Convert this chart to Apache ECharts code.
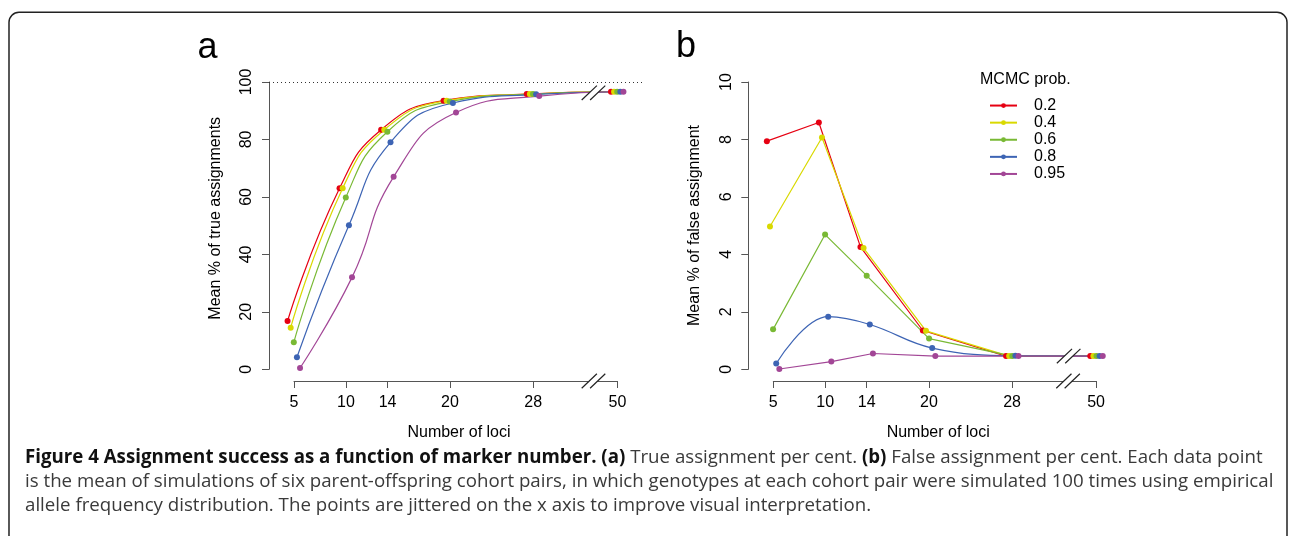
<!DOCTYPE html>
<html><head><meta charset="utf-8">
<script src="https://cdn.jsdelivr.net/npm/echarts@6/dist/echarts.min.js"></script>
<style>html,body{margin:0;padding:0;background:#fff;}#c{width:1290px;height:536px;}</style>
</head><body><div id="c"></div>
<script>
// ---------- data ----------
const loci = [5, 10, 14, 20, 28, 50];
const lociTickLabels = ['5', '10', '14', '20', '28', '50'];
const brokenPos50 = 36.1;          // axis position where "50" is drawn after the break
const breakAtA = 33.8;             // axis break location (panel a)
const breakAtB = 33.4;             // axis break location (panel b)
const probs = ['0.2', '0.4', '0.6', '0.8', '0.95'];
const jitter = [-0.62, -0.32, -0.02, 0.28, 0.58];
const colors = ['#e60012', '#d9d900', '#79b934', '#3d64b4', '#a24696'];

// (a) Mean % of true assignments
const trueP02  = [16.8, 63.0, 83.4, 93.5, 95.8, 96.6];
const trueP04  = [14.5, 63.0, 83.4, 93.5, 95.8, 96.6];
const trueP06  = [9.4, 59.8, 82.7, 93.2, 95.8, 96.6];
const trueP08  = [4.2, 50.1, 79.0, 92.7, 95.7, 96.6];
const trueP095 = [0.45, 32.0, 67.0, 89.4, 95.1, 96.6];
const trueRefLine = 100;
const trueBreakLevel = 96.25;

// (b) Mean % of false assignment
const falseP02  = [7.94, 8.59, 4.26, 1.35, 0.46, 0.46];
const falseP04  = [4.97, 8.07, 4.22, 1.34, 0.46, 0.46];
const falseP06  = [1.39, 4.69, 3.26, 1.07, 0.46, 0.46];
const falseP08  = [0.20, 1.83, 1.56, 0.74, 0.47, 0.46];
const falseP095 = [0.01, 0.27, 0.55, 0.46, 0.46, 0.46];
const falseBreakLevel = 0.46;

const trueSeries = [trueP02, trueP04, trueP06, trueP08, trueP095];
const falseSeries = [falseP02, falseP04, falseP06, falseP08, falseP095];
const falseSmooth = [0, 0, 0, 0.4, 0];

// ---------- helpers ----------
const FONT = "'Liberation Sans', Arial, Helvetica, sans-serif";
const AXC = '#555';
const posOf = l => (l === 50 ? brokenPos50 : l);
const tickPos = loci.map(posOf);
const tickLabel = v => {
  const i = tickPos.findIndex(p => Math.abs(p - v) < 1e-6);
  return i >= 0 ? lociTickLabels[i] : '';
};

function breakRender(params, api) {
  const p = api.coord([api.value(0), api.value(1)]);
  const cx = p[0], cy = p[1];
  const h = 7.2, w = 7.6, g = 4.2;
  return {
    type: 'group',
    children: [
      { type: 'polygon', shape: { points: [[cx - g - w, cy + h], [cx - g + w, cy - h], [cx + g + w, cy - h], [cx + g - w, cy + h]] },
        style: { fill: '#fff' } },
      { type: 'line', shape: { x1: cx - g - w, y1: cy + h, x2: cx - g + w, y2: cy - h }, style: { stroke: '#222', lineWidth: 1.2 } },
      { type: 'line', shape: { x1: cx + g - w, y1: cy + h, x2: cx + g + w, y2: cy - h }, style: { stroke: '#222', lineWidth: 1.2 } }
    ]
  };
}

function dataGrid(left) { return { left: left, top: 82, width: 374, height: 287.3, containLabel: false }; }
function axisGrid(left, width) { return { left: left, top: 82, width: width, height: 299, containLabel: false }; }

function hiddenX(grid, min, max) { return { gridIndex: grid, type: 'value', min: min, max: max, show: false, splitLine: { show: false } }; }
function hiddenY(grid) { return { gridIndex: grid, type: 'value', min: 0, max: 1, show: false, splitLine: { show: false } }; }
function visibleX(grid) {
  return {
    gridIndex: grid, type: 'value', min: 5, max: brokenPos50,
    axisLine: { show: true, lineStyle: { color: AXC, width: 1 } },
    axisTick: { show: true, customValues: tickPos, length: 7, lineStyle: { color: AXC, width: 1 } },
    axisLabel: { customValues: tickPos, formatter: tickLabel, margin: 14, fontSize: 16, color: '#000', fontFamily: FONT },
    splitLine: { show: false }
  };
}
function visibleY(grid, max, interval) {
  return {
    gridIndex: grid, type: 'value', min: 0, max: max, interval: interval,
    axisLine: { show: true, lineStyle: { color: AXC, width: 1 } },
    axisTick: { show: true, length: 7, lineStyle: { color: AXC, width: 1 } },
    axisLabel: { rotate: 90, margin: 14, fontSize: 16, color: '#000', fontFamily: FONT },
    splitLine: { show: false }
  };
}

const series = [];
trueSeries.forEach((vals, i) => {
  const s = {
    name: probs[i], type: 'line', xAxisIndex: 0, yAxisIndex: 0,
    data: loci.map((l, j) => [posOf(l) + jitter[i], vals[j]]),
    smooth: 0.5,
    symbol: 'circle', symbolSize: 6, showSymbol: true,
    lineStyle: { color: colors[i], width: 1.2 }, itemStyle: { color: colors[i] },
    clip: false, animation: false, z: 3
  };
  if (i === 0) {
    s.markLine = {
      silent: true, symbol: ['none', 'none'], label: { show: false },
      lineStyle: { type: [1, 3], color: '#333', width: 1.2 },
      data: [{ yAxis: trueRefLine }], animation: false
    };
  }
  series.push(s);
});
falseSeries.forEach((vals, i) => {
  series.push({
    name: probs[i], type: 'line', xAxisIndex: 2, yAxisIndex: 2,
    data: loci.map((l, j) => [posOf(l) + jitter[i], vals[j]]),
    smooth: falseSmooth[i],
    symbol: 'circle', symbolSize: 6, showSymbol: true,
    lineStyle: { color: colors[i], width: 1.2 }, itemStyle: { color: colors[i] },
    clip: false, animation: false, z: 3
  });
});
// break marks
series.push({ type: 'custom', xAxisIndex: 0, yAxisIndex: 0, renderItem: breakRender, data: [[breakAtA, trueBreakLevel]], z: 10, clip: false, silent: true, animation: false });
series.push({ type: 'custom', xAxisIndex: 1, yAxisIndex: 1, renderItem: breakRender, data: [[breakAtA, 0]], z: 10, clip: false, silent: true, animation: false });
series.push({ type: 'custom', xAxisIndex: 2, yAxisIndex: 2, renderItem: breakRender, data: [[breakAtB, falseBreakLevel]], z: 10, clip: false, silent: true, animation: false });
series.push({ type: 'custom', xAxisIndex: 3, yAxisIndex: 3, renderItem: breakRender, data: [[breakAtB, 0]], z: 10, clip: false, silent: true, animation: false });

const capSize = 18.7;
const capFont = "'Open Sans', 'Noto Sans', sans-serif";
const capMid = b => b - 0.388 * capSize;

const chart = echarts.init(document.getElementById('c'), null, { renderer: 'canvas' });
chart.setOption({
  animation: false,
  backgroundColor: '#fff',
  textStyle: { fontFamily: FONT },
  grid: [dataGrid(269), axisGrid(294, 323.4), dataGrid(748.3), axisGrid(773.3, 322.8)],
  xAxis: [hiddenX(0, 2.596, 38.56), visibleX(1), hiddenX(2, 2.596, 38.56), visibleX(3)],
  yAxis: [visibleY(0, 100, 20), hiddenY(1), visibleY(2, 10, 2), hiddenY(3)],
  legend: {
    data: probs, orient: 'vertical', left: 989, top: 97, padding: 0, selectedMode: false,
    itemWidth: 27, itemHeight: 6, itemGap: 0,
    textStyle: { fontSize: 16, color: '#000', fontFamily: FONT, lineHeight: 17.1, padding: [0, 0, 0, 12] }
  },
  series: series,
  graphic: { elements: [
    { type: 'rect', shape: { x: 9, y: 12.3, width: 1278, height: 600, r: 10 }, style: { fill: 'none', stroke: '#222', lineWidth: 1.5 }, silent: true },
    { type: 'text', style: { text: 'a', x: 197.6, y: 48.5, fontSize: 36, fontFamily: FONT, fill: '#000', align: 'left', verticalAlign: 'middle' } },
    { type: 'text', style: { text: 'b', x: 676, y: 47.5, fontSize: 36, fontFamily: FONT, fill: '#000', align: 'left', verticalAlign: 'middle' } },
    { type: 'text', x: 216, y: 218.3, rotation: Math.PI / 2, style: { text: 'Mean % of true assignments', x: 0, y: 0, fontSize: 16, fontFamily: FONT, fill: '#000', align: 'center', verticalAlign: 'middle' } },
    { type: 'text', x: 695, y: 225.5, rotation: Math.PI / 2, style: { text: 'Mean % of false assignment', x: 0, y: 0, fontSize: 16, fontFamily: FONT, fill: '#000', align: 'center', verticalAlign: 'middle' } },
    { type: 'text', style: { text: 'Number of loci', x: 459, y: 432.7, fontSize: 16, fontFamily: FONT, fill: '#000', align: 'center', verticalAlign: 'middle' } },
    { type: 'text', style: { text: 'Number of loci', x: 938.2, y: 432.7, fontSize: 16, fontFamily: FONT, fill: '#000', align: 'center', verticalAlign: 'middle' } },
    { type: 'text', style: { text: 'MCMC prob.', x: 980, y: 80, fontSize: 16, fontFamily: FONT, fill: '#000', align: 'left', verticalAlign: 'middle' } },
    { type: 'text', style: {
        text: '{b|Figure 4 Assignment success as a function of marker number.} {b|(a)} True assignment per cent. {b|(b)} False assignment per cent. Each data point',
        rich: { b: { fontWeight: 'bold', fill: '#111', fontSize: capSize, fontFamily: capFont } },
        x: 25, y: capMid(465), fontSize: capSize, fontFamily: capFont, fill: '#3a3a3a', align: 'left', verticalAlign: 'middle' } },
    { type: 'text', style: {
        text: 'is the mean of simulations of six parent-offspring cohort pairs, in which genotypes at each cohort pair were simulated 100 times using empirical',
        x: 25, y: capMid(489), fontSize: capSize, fontFamily: capFont, fill: '#3a3a3a', align: 'left', verticalAlign: 'middle' } },
    { type: 'text', style: {
        text: 'allele frequency distribution. The points are jittered on the x axis to improve visual interpretation.',
        x: 25, y: capMid(513), fontSize: capSize, fontFamily: capFont, fill: '#3a3a3a', align: 'left', verticalAlign: 'middle' } }
  ] }
});
</script>
</body></html>
